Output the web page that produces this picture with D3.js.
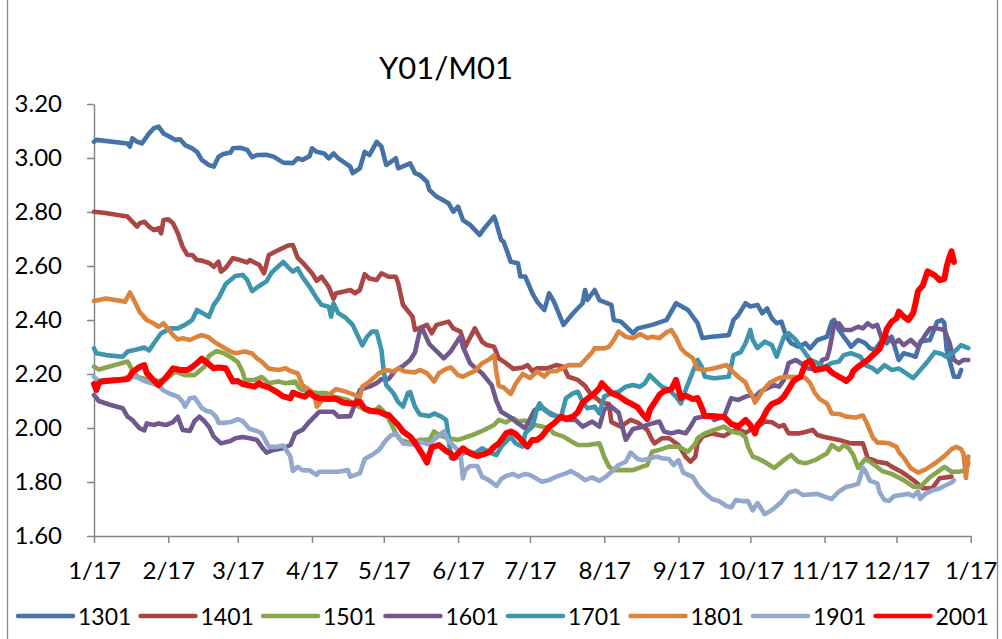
<!DOCTYPE html>
<html>
<head>
<meta charset="utf-8">
<script src="https://cdn.jsdelivr.net/npm/d3@7"></script>
<style>
  body { margin: 0; background: #fff; }
  svg { display: block; }
  text { font-family: Lato, "Open Sans", sans-serif; fill: #000; }
</style>
</head>
<body>
<svg id="chart" width="1002" height="639"></svg>
<script>
// ---- data ----------------------------------------------------------------
// Each series: [days since START, value]
const START = "2016-01-17";
const seriesNames = ["1301", "1401", "1501", "1601", "1701", "1801", "1901", "2001"];
const tickDates = ["2016-01-17", "2016-02-17", "2016-03-17", "2016-04-17", "2016-05-17",
  "2016-06-17", "2016-07-17", "2016-08-17", "2016-09-17", "2016-10-17", "2016-11-17",
  "2016-12-17", "2017-01-17"];
const yTicks = [1.6, 1.8, 2.0, 2.2, 2.4, 2.6, 2.8, 3.0, 3.2];
const titleText = "Y01/M01";

const s1301 = [[0,3.060],[1,3.067],[14,3.054],[15,3.042],[16,3.073],[18,3.060],[20,3.054],[23,3.091],[25,3.110],[27,3.116],[29,3.091],[32,3.077],[34,3.067],[36,3.069],[38,3.048],[41,3.036],[43,3.023],[45,2.993],[48,2.974],[50,2.968],[52,3.005],[54,3.015],[57,3.020],[58,3.036],[61,3.038],[64,3.030],[66,3.003],[68,3.011],[72,3.012],[75,3.005],[79,2.983],[83,2.981],[85,2.999],[87,2.993],[90,3.007],[91,3.036],[93,3.023],[96,3.017],[98,2.999],[100,3.017],[102,2.999],[107,2.968],[108,2.944],[111,2.962],[113,3.023],[115,3.011],[118,3.060],[120,3.042],[122,2.974],[126,2.999],[127,2.962],[132,2.980],[134,2.944],[136,2.937],[139,2.912],[140,2.882],[143,2.857],[148,2.832],[150,2.801],[152,2.820],[154,2.770],[157,2.752],[161,2.715],[163,2.740],[167,2.783],[168,2.758],[170,2.696],[171,2.690],[174,2.616],[177,2.610],[178,2.561],[180,2.561],[183,2.499],[185,2.468],[188,2.437],[190,2.499],[192,2.468],[196,2.382],[200,2.425],[204,2.462],[205,2.511],[206,2.474],[209,2.511],[211,2.474],[216,2.456],[217,2.400],[220,2.394],[225,2.351],[227,2.369],[233,2.382],[237,2.394],[239,2.400],[243,2.462],[248,2.437],[252,2.388],[254,2.333],[258,2.338],[265,2.344],[267,2.400],[269,2.419],[272,2.462],[274,2.450],[277,2.456],[279,2.425],[281,2.443],[283,2.406],[285,2.388],[287,2.394],[289,2.338],[291,2.314],[294,2.301],[297,2.314],[299,2.295],[302,2.326],[306,2.338],[308,2.394],[309,2.400],[311,2.363],[313,2.338],[315,2.314],[316,2.301],[319,2.326],[322,2.314],[324,2.295],[326,2.289],[329,2.326],[331,2.314],[333,2.338],[336,2.252],[338,2.277],[341,2.270],[343,2.264],[345,2.320],[349,2.326],[352,2.394],[354,2.400],[355,2.388],[356,2.289],[359,2.190],[361,2.190],[362,2.215]];

const s1401 = [[0,2.801],[4,2.797],[14,2.783],[16,2.764],[18,2.746],[19,2.758],[21,2.764],[23,2.746],[25,2.733],[27,2.740],[28,2.721],[29,2.770],[31,2.773],[33,2.758],[35,2.721],[37,2.671],[39,2.641],[41,2.641],[43,2.622],[45,2.620],[48,2.611],[50,2.597],[52,2.616],[53,2.579],[55,2.593],[58,2.629],[61,2.622],[64,2.613],[65,2.622],[67,2.613],[69,2.604],[71,2.573],[73,2.641],[77,2.659],[81,2.676],[83,2.678],[85,2.631],[88,2.604],[91,2.573],[93,2.545],[95,2.560],[98,2.523],[100,2.478],[101,2.499],[104,2.505],[107,2.511],[109,2.499],[111,2.511],[113,2.570],[115,2.554],[118,2.548],[120,2.573],[123,2.560],[126,2.560],[127,2.536],[129,2.456],[133,2.412],[134,2.363],[139,2.382],[141,2.351],[143,2.382],[148,2.394],[150,2.369],[153,2.357],[155,2.301],[159,2.369],[162,2.320],[164,2.307],[167,2.301],[169,2.258],[172,2.240],[175,2.219],[179,2.224],[181,2.233],[183,2.211],[185,2.221],[189,2.221],[193,2.233],[196,2.227],[198,2.190],[202,2.178],[205,2.156],[207,2.130],[212,2.093],[215,2.089],[216,2.022],[220,2.005],[224,2.030],[227,2.020],[231,1.993],[233,1.956],[234,1.943],[237,1.962],[240,1.963],[244,1.937],[247,1.893],[249,1.875],[251,1.893],[252,1.943],[254,1.968],[258,1.980],[263,1.970],[266,1.986],[269,1.996],[272,1.982],[274,1.993],[277,2.004],[280,2.024],[283,2.021],[286,2.005],[288,2.011],[290,1.980],[294,1.980],[297,1.985],[300,1.993],[302,1.974],[305,1.967],[311,1.956],[316,1.943],[321,1.943],[323,1.889],[327,1.875],[331,1.869],[333,1.857],[337,1.838],[340,1.820],[342,1.807],[346,1.777],[350,1.777],[353,1.814],[358,1.820]];

const s1501 = [[0,2.227],[2,2.217],[14,2.246],[16,2.215],[18,2.189],[22,2.181],[27,2.174],[30,2.181],[34,2.209],[38,2.196],[42,2.196],[46,2.226],[48,2.267],[51,2.285],[54,2.278],[57,2.263],[60,2.244],[62,2.209],[63,2.178],[67,2.178],[70,2.189],[73,2.166],[77,2.172],[80,2.166],[84,2.172],[86,2.144],[90,2.134],[94,2.129],[97,2.129],[100,2.116],[103,2.110],[106,2.104],[109,2.085],[112,2.074],[115,2.059],[118,2.070],[119,2.078],[122,2.052],[124,2.017],[126,1.980],[128,1.956],[132,1.944],[136,1.956],[140,1.956],[142,1.987],[144,1.974],[148,1.962],[152,1.956],[158,1.974],[163,1.993],[167,2.011],[169,2.030],[172,2.021],[175,2.036],[177,2.024],[180,2.028],[182,2.015],[186,2.007],[190,1.999],[192,1.980],[196,1.968],[199,1.952],[202,1.937],[206,1.937],[211,1.943],[213,1.893],[215,1.857],[217,1.844],[219,1.844],[225,1.844],[229,1.857],[231,1.863],[233,1.912],[236,1.919],[240,1.931],[244,1.931],[248,1.912],[251,1.941],[252,1.962],[255,1.980],[259,1.993],[263,2.005],[266,1.987],[270,1.980],[272,1.965],[273,1.931],[275,1.894],[277,1.888],[280,1.874],[284,1.852],[288,1.881],[291,1.900],[294,1.875],[297,1.869],[301,1.881],[304,1.896],[306,1.906],[308,1.937],[311,1.919],[313,1.937],[315,1.926],[317,1.900],[319,1.852],[322,1.885],[324,1.875],[329,1.841],[333,1.830],[338,1.807],[342,1.783],[345,1.783],[349,1.818],[352,1.837],[355,1.856],[358,1.838],[361,1.838],[364,1.844],[365,1.869]];

const s1601 = [[0,2.122],[2,2.100],[7,2.085],[12,2.073],[14,2.042],[16,2.030],[19,1.999],[21,1.991],[22,2.017],[25,2.011],[27,2.017],[30,2.011],[33,2.022],[35,2.042],[37,1.993],[40,1.989],[42,2.026],[44,2.042],[46,2.026],[48,2.005],[50,1.968],[53,1.943],[57,1.952],[59,1.962],[62,1.967],[65,1.962],[68,1.956],[70,1.930],[72,1.909],[75,1.919],[79,1.925],[82,1.937],[84,1.980],[87,1.993],[90,2.024],[94,2.060],[100,2.060],[102,2.042],[107,2.044],[109,2.091],[111,2.141],[115,2.153],[118,2.166],[120,2.181],[123,2.181],[126,2.215],[129,2.230],[132,2.252],[134,2.280],[136,2.359],[137,2.369],[140,2.311],[143,2.285],[146,2.258],[149,2.285],[152,2.326],[153,2.338],[154,2.301],[157,2.240],[160,2.217],[162,2.203],[166,2.159],[168,2.100],[170,2.060],[174,2.039],[177,2.017],[180,1.999],[184,2.067],[187,2.076],[190,2.057],[193,2.044],[197,2.030],[201,2.030],[204,2.005],[208,2.024],[211,2.005],[213,2.070],[216,2.079],[219,2.057],[222,1.956],[225,1.996],[229,2.005],[233,2.017],[236,2.024],[238,1.987],[241,1.980],[244,1.987],[247,1.980],[249,2.005],[251,2.036],[254,2.042],[257,2.048],[259,2.030],[263,2.042],[266,2.110],[269,2.104],[272,2.116],[274,2.122],[276,2.116],[278,2.134],[281,2.147],[284,2.159],[286,2.153],[288,2.178],[290,2.240],[293,2.252],[295,2.240],[298,2.221],[302,2.215],[304,2.252],[306,2.258],[307,2.289],[309,2.382],[311,2.388],[313,2.363],[316,2.363],[319,2.375],[321,2.369],[323,2.388],[325,2.375],[327,2.382],[329,2.326],[331,2.338],[334,2.314],[336,2.326],[338,2.307],[341,2.326],[344,2.301],[347,2.344],[349,2.369],[352,2.369],[355,2.363],[357,2.320],[359,2.252],[361,2.240],[363,2.252],[365,2.252]];

const s1701 = [[0,2.295],[1,2.277],[5,2.270],[12,2.264],[14,2.283],[17,2.289],[21,2.298],[23,2.287],[25,2.314],[28,2.351],[32,2.369],[35,2.369],[38,2.382],[41,2.400],[43,2.437],[46,2.422],[48,2.412],[50,2.456],[52,2.481],[55,2.533],[57,2.548],[59,2.563],[62,2.567],[64,2.548],[66,2.507],[69,2.526],[72,2.543],[74,2.574],[76,2.591],[79,2.615],[81,2.596],[83,2.579],[85,2.591],[87,2.560],[90,2.523],[93,2.480],[95,2.456],[98,2.449],[99,2.412],[100,2.462],[102,2.425],[105,2.409],[108,2.382],[110,2.344],[112,2.306],[114,2.338],[116,2.357],[118,2.357],[120,2.289],[121,2.207],[122,2.159],[125,2.129],[127,2.096],[129,2.079],[131,2.129],[132,2.133],[134,2.079],[136,2.050],[140,2.044],[142,2.054],[145,2.042],[147,2.030],[148,1.970],[149,1.889],[151,1.888],[154,1.906],[157,1.912],[159,1.906],[162,1.925],[166,1.906],[168,1.900],[170,1.931],[174,1.968],[176,1.943],[179,1.931],[180,1.980],[183,2.005],[184,2.037],[185,2.073],[186,2.091],[188,2.067],[191,2.048],[195,2.042],[197,2.110],[200,2.129],[202,2.134],[204,2.097],[206,2.073],[209,2.079],[211,2.054],[213,2.116],[216,2.129],[219,2.134],[222,2.153],[225,2.159],[228,2.153],[230,2.166],[232,2.196],[234,2.178],[237,2.153],[240,2.141],[243,2.116],[245,2.091],[247,2.141],[250,2.209],[252,2.252],[254,2.222],[255,2.190],[259,2.184],[265,2.190],[267,2.270],[270,2.281],[272,2.314],[274,2.363],[275,2.326],[277,2.296],[280,2.320],[283,2.307],[285,2.264],[288,2.338],[290,2.351],[293,2.326],[296,2.289],[299,2.252],[302,2.241],[305,2.227],[308,2.241],[311,2.246],[313,2.270],[316,2.277],[320,2.264],[322,2.233],[325,2.222],[327,2.207],[330,2.233],[333,2.215],[336,2.220],[338,2.209],[342,2.185],[345,2.215],[348,2.246],[351,2.281],[354,2.274],[356,2.263],[359,2.281],[362,2.307],[365,2.296]];

const s1801 = [[0,2.470],[2,2.474],[5,2.480],[13,2.468],[15,2.502],[17,2.468],[19,2.431],[22,2.400],[25,2.387],[27,2.375],[29,2.388],[31,2.367],[33,2.344],[35,2.328],[37,2.332],[40,2.326],[43,2.338],[45,2.344],[48,2.335],[50,2.320],[53,2.304],[57,2.283],[59,2.277],[63,2.283],[66,2.276],[68,2.258],[70,2.246],[73,2.220],[77,2.215],[80,2.221],[82,2.211],[85,2.203],[87,2.159],[90,2.141],[92,2.126],[93,2.079],[95,2.100],[98,2.122],[101,2.144],[105,2.135],[109,2.122],[111,2.116],[112,2.153],[115,2.172],[119,2.203],[122,2.215],[125,2.209],[127,2.221],[130,2.209],[134,2.206],[136,2.215],[139,2.203],[142,2.172],[144,2.203],[147,2.219],[149,2.224],[152,2.196],[154,2.190],[157,2.203],[159,2.211],[162,2.240],[165,2.254],[167,2.270],[168,2.207],[169,2.156],[171,2.150],[174,2.126],[176,2.163],[179,2.200],[182,2.185],[185,2.209],[188,2.190],[190,2.209],[193,2.211],[195,2.219],[198,2.233],[203,2.233],[205,2.252],[208,2.281],[209,2.295],[213,2.295],[215,2.301],[217,2.326],[219,2.357],[222,2.338],[225,2.332],[228,2.348],[231,2.333],[233,2.338],[236,2.333],[239,2.354],[241,2.363],[243,2.335],[245,2.296],[247,2.277],[250,2.259],[252,2.219],[255,2.215],[259,2.221],[264,2.233],[267,2.206],[269,2.189],[272,2.169],[273,2.147],[275,2.116],[276,2.094],[279,2.137],[282,2.167],[286,2.185],[289,2.190],[293,2.189],[297,2.185],[299,2.166],[301,2.129],[303,2.107],[306,2.091],[308,2.054],[311,2.052],[314,2.042],[318,2.039],[321,2.046],[323,2.011],[325,1.967],[327,1.946],[329,1.946],[332,1.943],[335,1.930],[336,1.911],[338,1.891],[341,1.851],[344,1.835],[347,1.846],[349,1.857],[352,1.875],[355,1.896],[358,1.922],[360,1.930],[362,1.922],[363,1.904],[364,1.815],[365,1.894]];

const s1901 = [[0,2.189],[2,2.174],[5,2.178],[12,2.181],[15,2.193],[18,2.187],[21,2.174],[24,2.166],[27,2.156],[29,2.139],[32,2.126],[35,2.116],[37,2.097],[38,2.079],[40,2.110],[42,2.113],[45,2.074],[47,2.063],[49,2.059],[51,2.041],[52,2.019],[54,2.019],[57,2.022],[60,2.033],[62,2.026],[65,1.996],[68,1.989],[70,1.980],[73,1.930],[76,1.930],[79,1.935],[82,1.894],[83,1.841],[85,1.856],[87,1.844],[90,1.843],[93,1.826],[94,1.838],[98,1.838],[102,1.838],[106,1.844],[107,1.820],[111,1.832],[113,1.885],[116,1.900],[119,1.919],[122,1.956],[124,1.973],[126,1.978],[128,1.956],[129,1.943],[133,1.939],[136,1.948],[140,1.939],[143,1.965],[146,1.987],[148,1.952],[151,1.926],[153,1.906],[154,1.813],[155,1.844],[157,1.859],[160,1.859],[162,1.820],[165,1.806],[168,1.785],[170,1.811],[172,1.822],[175,1.830],[177,1.820],[180,1.830],[182,1.826],[185,1.811],[187,1.801],[190,1.807],[193,1.820],[197,1.832],[199,1.841],[202,1.826],[205,1.807],[208,1.817],[211,1.804],[214,1.822],[216,1.838],[219,1.863],[222,1.875],[224,1.909],[227,1.885],[229,1.881],[231,1.885],[235,1.894],[237,1.888],[240,1.885],[242,1.863],[244,1.881],[246,1.835],[250,1.819],[252,1.789],[255,1.759],[258,1.737],[261,1.729],[264,1.711],[266,1.706],[268,1.733],[271,1.729],[273,1.729],[275,1.695],[277,1.722],[280,1.681],[283,1.696],[287,1.726],[290,1.761],[293,1.768],[296,1.752],[299,1.754],[302,1.756],[305,1.746],[308,1.737],[311,1.765],[314,1.782],[316,1.785],[319,1.793],[321,1.852],[322,1.841],[324,1.804],[327,1.795],[328,1.761],[330,1.733],[332,1.730],[334,1.748],[337,1.752],[340,1.756],[342,1.747],[344,1.765],[345,1.737],[347,1.756],[350,1.769],[353,1.776],[355,1.785],[358,1.798],[359,1.807]];

const s2001 = [[0,2.163],[1,2.141],[2,2.166],[3,2.172],[14,2.181],[15,2.190],[16,2.207],[19,2.226],[21,2.233],[22,2.204],[25,2.176],[27,2.159],[30,2.187],[33,2.221],[36,2.215],[39,2.215],[41,2.226],[43,2.240],[45,2.257],[47,2.243],[50,2.221],[52,2.224],[55,2.221],[58,2.172],[60,2.174],[62,2.163],[65,2.157],[67,2.153],[69,2.166],[70,2.159],[73,2.150],[76,2.135],[79,2.117],[82,2.110],[83,2.131],[85,2.124],[88,2.116],[90,2.131],[92,2.116],[94,2.110],[98,2.107],[101,2.109],[104,2.094],[107,2.091],[109,2.091],[111,2.097],[113,2.072],[116,2.063],[119,2.060],[122,2.048],[123,2.048],[127,2.011],[129,1.987],[132,1.968],[134,1.946],[137,1.904],[139,1.872],[141,1.928],[144,1.937],[147,1.915],[149,1.906],[150,1.889],[152,1.906],[154,1.925],[157,1.906],[160,1.896],[163,1.904],[165,1.911],[167,1.930],[169,1.943],[172,1.980],[174,1.987],[176,1.978],[179,1.950],[181,1.931],[183,1.956],[185,1.956],[187,1.970],[190,2.004],[192,2.017],[195,2.042],[197,2.035],[200,2.042],[202,2.059],[204,2.094],[207,2.115],[209,2.129],[211,2.147],[212,2.166],[214,2.147],[216,2.129],[219,2.119],[222,2.100],[224,2.091],[227,2.076],[229,2.052],[231,2.033],[232,2.067],[234,2.094],[236,2.122],[238,2.137],[241,2.144],[243,2.178],[245,2.111],[247,2.120],[250,2.107],[252,2.111],[254,2.070],[255,2.044],[259,2.044],[263,2.041],[266,2.015],[269,2.006],[272,2.030],[274,2.011],[276,1.980],[277,2.011],[279,2.033],[281,2.067],[283,2.089],[286,2.100],[288,2.116],[290,2.144],[292,2.174],[295,2.191],[297,2.240],[299,2.248],[301,2.215],[304,2.219],[306,2.224],[308,2.206],[309,2.200],[312,2.185],[314,2.174],[316,2.190],[317,2.211],[319,2.227],[321,2.240],[323,2.252],[326,2.277],[328,2.293],[330,2.339],[331,2.367],[333,2.394],[335,2.406],[336,2.431],[338,2.413],[340,2.400],[342,2.426],[343,2.463],[344,2.507],[346,2.528],[348,2.580],[351,2.565],[353,2.548],[355,2.552],[356,2.600],[357,2.630],[358,2.654],[359,2.615]];

const seriesData = [s1301, s1401, s1501, s1601, s1701, s1801, s1901, s2001];

// ---- styling -------------------------------------------------------------
const seriesColors = ["#4572A7", "#AA4643", "#89A54E", "#71588F", "#3D96AE", "#DB843D", "#92A8CD", "#FF0000"];
const seriesWidths = [4.6, 4.6, 4.6, 4.6, 4.6, 4.6, 4.6, 6];
const axisColor = "#868686";

const W = 1002, H = 639;
const plot = { left: 94, right: 970.7, top: 104, bottom: 536 };

const parse = d3.timeParse("%Y-%m-%d");
const t0 = parse(START);
const ticks = tickDates.map(parse);

const x = d3.scaleTime()
  .domain([ticks[0], ticks[ticks.length - 1]])
  .range([plot.left, plot.right]);
const y = d3.scaleLinear()
  .domain([yTicks[0], yTicks[yTicks.length - 1]])
  .range([plot.bottom, plot.top]);

const svg = d3.select("#chart");

svg.append("rect")
  .attr("width", W).attr("height", H).attr("fill", "#fff");

// outer chart-area frame
svg.append("rect")
  .attr("x", 7.5).attr("y", -5)
  .attr("width", 990).attr("height", H + 10)
  .attr("fill", "none").attr("stroke", "#8c8c8c").attr("stroke-width", 1.3);

// title
svg.append("text")
  .attr("x", 446).attr("y", 79)
  .attr("text-anchor", "middle")
  .attr("font-size", 31)
  .text(titleText);

// y axis
const gy = svg.append("g")
  .attr("transform", `translate(${plot.left},0)`)
  .call(d3.axisLeft(y)
    .tickValues(yTicks)
    .tickFormat(d3.format(".2f"))
    .tickSize(7).tickSizeOuter(0).tickPadding(25));

// x axis
const gx = svg.append("g")
  .attr("transform", `translate(0,${plot.bottom})`)
  .call(d3.axisBottom(x)
    .tickValues(ticks)
    .tickFormat(d3.timeFormat("%-m/%-d"))
    .tickSize(7).tickSizeOuter(0).tickPadding(19));

[gx, gy].forEach(g => {
  g.attr("font-family", null).attr("font-size", 24);
  g.select(".domain").attr("stroke", axisColor).attr("stroke-width", 1.5);
  g.selectAll(".tick line").attr("stroke", axisColor).attr("stroke-width", 1.5);
  g.selectAll(".tick text").attr("fill", "#000");
});

// series lines
const line = d3.line()
  .x(d => x(d3.timeDay.offset(t0, d[0])))
  .y(d => y(d[1]));

svg.append("g")
  .selectAll("path")
  .data(seriesData)
  .join("path")
  .attr("d", line)
  .attr("fill", "none")
  .attr("stroke", (d, i) => seriesColors[i])
  .attr("stroke-width", (d, i) => seriesWidths[i])
  .attr("stroke-linejoin", "round")
  .attr("stroke-linecap", "round");

// legend
const legend = svg.append("g")
  .selectAll("g")
  .data(seriesNames)
  .join("g")
  .attr("transform", (d, i) => `translate(${18 + 122.5 * i},616)`);

legend.append("line")
  .attr("x1", 0).attr("x2", 55)
  .attr("stroke", (d, i) => seriesColors[i])
  .attr("stroke-width", 4.5)
  .attr("stroke-linecap", "round");

legend.append("text")
  .attr("x", 60).attr("y", 9)
  .attr("font-size", 23)
  .text(d => d);
</script>
</body>
</html>
